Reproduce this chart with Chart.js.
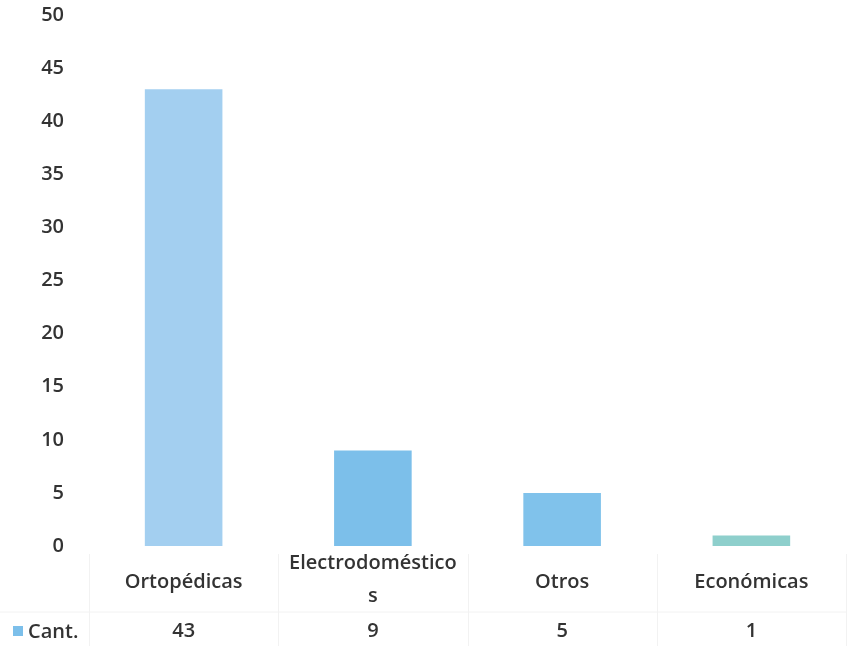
<!DOCTYPE html>
<html>
<head>
<meta charset="utf-8">
<script src="https://cdn.jsdelivr.net/npm/chart.js@4/dist/chart.umd.min.js"></script>
<style>
html,body{margin:0;padding:0;background:#fff;}
#wrap{position:relative;width:863px;height:646px;}
</style>
</head>
<body>
<div id="wrap"><canvas id="c" width="863" height="646"></canvas></div>
<script>
const categories = ["Ortopédicas", "Electrodomésticos", "Otros", "Económicas"];
const categoryLines = [["Ortopédicas"], ["Electrodoméstico", "s"], ["Otros"], ["Económicas"]];
const seriesName = "Cant.";
const cantValues = [43, 9, 5, 1];
const yTicks = [0, 5, 10, 15, 20, 25, 30, 35, 40, 45, 50];
const barColors = ["#a3cff0", "#7cbfea", "#80c2eb", "#8ecfcc"];

const FONT = "'Open Sans', 'DejaVu Sans', sans-serif";
const TEXT = "#333333";
const FSIZE = 20;

const tablePlugin = {
  id: 'tablePlugin',
  afterDraw(chart) {
    const ctx = chart.ctx;
    const xs = chart.scales.x;
    const area = chart.chartArea;
    ctx.save();
    ctx.strokeStyle = "#f2f2f2";
    ctx.lineWidth = 1;
    const rowTop = area.bottom + 66;
    ctx.beginPath();
    ctx.moveTo(0, rowTop); ctx.lineTo(area.right, rowTop);
    for (let i = 0; i <= categories.length; i++) {
      const xx = Math.round(area.left + (area.right - area.left) * i / categories.length) + 0.5;
      ctx.moveTo(xx, area.bottom + 8); ctx.lineTo(xx, chart.height);
    }
    ctx.stroke();

    ctx.fillStyle = TEXT;
    ctx.font = "600 " + FSIZE + "px " + FONT;
    ctx.textAlign = "center";
    ctx.textBaseline = "middle";
    categoryLines.forEach((lines, i) => {
      const x = xs.getPixelForValue(i);
      const lh = 33;
      const startY = lines.length > 1 ? area.bottom + 17 : area.bottom + 36;
      lines.forEach((ln, j) => {
        ctx.fillText(ln, x, startY + j * lh);
      });
    });
    const vy = area.bottom + 85;
    cantValues.forEach((v, i) => {
      ctx.fillText(String(v), xs.getPixelForValue(i), vy);
    });
    ctx.fillStyle = barColors[1];
    ctx.fillRect(13, vy - 5, 10, 10);
    ctx.fillStyle = TEXT;
    ctx.textAlign = "left";
    ctx.fillText(seriesName, 28, vy + 1);
    ctx.restore();
  }
};

new Chart(document.getElementById('c'), {
  type: 'bar',
  data: {
    labels: categories,
    datasets: [{
      label: seriesName,
      data: cantValues,
      backgroundColor: barColors,
      borderWidth: 0,
      barPercentage: 0.41,
      categoryPercentage: 1.0
    }]
  },
  options: {
    responsive: false,
    animation: false,
    devicePixelRatio: 1,
    layout: { padding: { top: 15, right: 17, bottom: 100, left: 0 } },
    plugins: { legend: { display: false }, tooltip: { enabled: false } },
    scales: {
      x: {
        ticks: { display: false },
        grid: { display: false, drawTicks: false },
        border: { display: false }
      },
      y: {
        min: 0, max: 50,
        afterBuildTicks(scale) { scale.ticks = yTicks.map(v => ({ value: v })); },
        afterFit(scale) { scale.width = 89; scale.paddingTop = 0; scale.paddingBottom = 0; },
        ticks: { color: TEXT, padding: 25, font: { family: FONT, size: FSIZE, weight: '600' } },
        grid: { display: false, drawTicks: false },
        border: { display: false }
      }
    }
  },
  plugins: [tablePlugin]
});
</script>
</body>
</html>
